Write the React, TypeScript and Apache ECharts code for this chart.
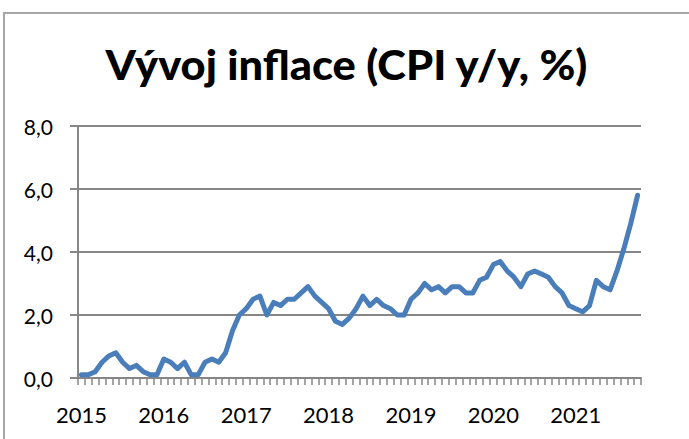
import React, { useEffect, useRef } from "react";
import * as echarts from "echarts";

const TITLE = "Vývoj inflace (CPI y/y, %)";
const YEARS = ["2015", "2016", "2017", "2018", "2019", "2020", "2021"];
const CPI_2015 = [0.1, 0.1, 0.2, 0.5, 0.7, 0.8, 0.5, 0.3, 0.4, 0.2, 0.1, 0.1];
const CPI_2016 = [0.6, 0.5, 0.3, 0.5, 0.1, 0.1, 0.5, 0.6, 0.5, 0.8, 1.5, 2.0];
const CPI_2017 = [2.2, 2.5, 2.6, 2.0, 2.4, 2.3, 2.5, 2.5, 2.7, 2.9, 2.6, 2.4];
const CPI_2018 = [2.2, 1.8, 1.7, 1.9, 2.2, 2.6, 2.3, 2.5, 2.3, 2.2, 2.0, 2.0];
const CPI_2019 = [2.5, 2.7, 3.0, 2.8, 2.9, 2.7, 2.9, 2.9, 2.7, 2.7, 3.1, 3.2];
const CPI_2020 = [3.6, 3.7, 3.4, 3.2, 2.9, 3.3, 3.4, 3.3, 3.2, 2.9, 2.7, 2.3];
const CPI_2021 = [2.2, 2.1, 2.3, 3.1, 2.9, 2.8, 3.4, 4.1, 4.9, 5.8];
const Y_MIN = 0;
const Y_MAX = 8;
const Y_STEP = 2;

const SERIES_BY_YEAR = [CPI_2015, CPI_2016, CPI_2017, CPI_2018, CPI_2019, CPI_2020, CPI_2021];

export default function App() {
  const ref = useRef<HTMLDivElement>(null);

  useEffect(() => {
    if (!ref.current) return;
    const chart = echarts.init(ref.current, undefined, { renderer: "svg" });

    const categories: string[] = [];
    const values: number[] = [];
    SERIES_BY_YEAR.forEach((arr, yi) => {
      arr.forEach((v, mi) => {
        categories.push(YEARS[yi] + "-" + String(mi + 1).padStart(2, "0"));
        values.push(v);
      });
    });

    const titleFont = "900 41px Lato";
    let scaleX = 1;
    try {
      const ctx = document.createElement("canvas").getContext("2d");
      if (ctx) {
        ctx.font = titleFont;
        const w = ctx.measureText(TITLE).width;
        if (w > 0) scaleX = 483 / w;
      }
    } catch (e) {}

    chart.setOption({
      animation: false,
      backgroundColor: "#ffffff",
      grid: { left: 78, right: 48, top: 126, bottom: 61, containLabel: false },
      graphic: [
        {
          type: "rect",
          shape: { x: 4, y: 13, width: 800, height: 600 },
          style: { fill: "none", stroke: "#a6a6a6", lineWidth: 2 },
          silent: true,
        },
        {
          type: "text",
          x: 346.5,
          y: 64,
          scaleX: scaleX,
          style: {
            text: TITLE,
            font: titleFont,
            fill: "#000000",
            textAlign: "center",
            textVerticalAlign: "middle",
          },
        },
      ],
      xAxis: {
        type: "category",
        data: categories,
        boundaryGap: true,
        axisLine: { lineStyle: { color: "#868686", width: 2 } },
        axisTick: { show: true, interval: 0, length: 7, alignWithLabel: false, lineStyle: { color: "#868686", width: 1.5 } },
        axisLabel: {
          interval: 11,
          margin: 25,
          color: "#000000",
          fontFamily: "Lato",
          fontSize: 22,
          formatter: (v: string) => v.slice(0, 4),
        },
        splitLine: { show: false },
      },
      yAxis: {
        type: "value",
        min: Y_MIN,
        max: Y_MAX,
        interval: Y_STEP,
        axisLine: { show: true, lineStyle: { color: "#868686", width: 2 } },
        axisTick: { show: true, length: 8, lineStyle: { color: "#868686", width: 2 } },
        splitLine: { show: true, lineStyle: { color: "#868686", width: 2 } },
        axisLabel: {
          margin: 25,
          color: "#000000",
          fontFamily: "Lato",
          fontSize: 21,
          padding: [8, 0, 0, 0],
          formatter: (v: number) => v.toFixed(1).replace(".", ","),
        },
      },
      series: [
        {
          type: "line",
          data: values,
          showSymbol: false,
          symbol: "none",
          lineStyle: { color: "#4a7ebb", width: 5, cap: "round", join: "round" },
          itemStyle: { color: "#4a7ebb" },
        },
      ],
    });

    return () => chart.dispose();
  }, []);

  return (
    <div
      ref={ref}
      style={{ position: "fixed", left: 0, top: 0, width: 689, height: 439, background: "#fff" }}
    />
  );
}
